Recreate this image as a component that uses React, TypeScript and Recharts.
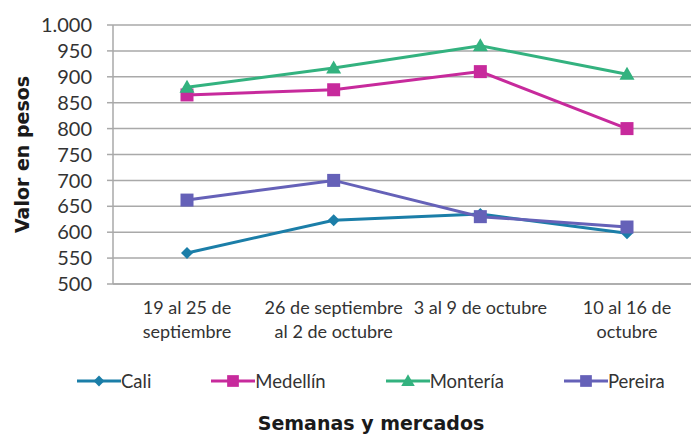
import React from 'react';
import { LineChart, Line, XAxis, YAxis, CartesianGrid } from 'recharts';

// semanas (dos renglones por etiqueta)
const weeks = [
  '19 al 25 de\nseptiembre',
  '26 de septiembre\nal 2 de octubre',
  '3 al 9 de octubre',
  '10 al 16 de\noctubre',
];
const cali = [560, 623, 635, 598];
const medellin = [865, 875, 910, 800];
const monteria = [880, 917, 960, 905];
const pereira = [662, 700, 630, 610];
const yTicks = [500, 550, 600, 650, 700, 750, 800, 850, 900, 950, 1000];

const series = [
  { key: 'cali', name: 'Cali', color: '#1b7ea8', shape: 'diamond' },
  { key: 'medellin', name: 'Medellín', color: '#c72a9c', shape: 'square' },
  { key: 'monteria', name: 'Montería', color: '#33b27f', shape: 'triangle' },
  { key: 'pereira', name: 'Pereira', color: '#6561b8', shape: 'square' },
];

const data = weeks.map((week, i) => ({
  week,
  cali: cali[i],
  medellin: medellin[i],
  monteria: monteria[i],
  pereira: pereira[i],
}));

const FONT = 'Lato, "Noto Sans", sans-serif';
const BOLD_FONT = '"DejaVu Sans", sans-serif';
const GRID = '#a9a9a9';

const Marker = ({ cx, cy, shape, color, size = 1 }: any) => {
  if (cx == null || cy == null) return null;
  if (shape === 'diamond') {
    const r = 6 * size;
    return <polygon points={`${cx},${cy - r} ${cx + r},${cy} ${cx},${cy + r} ${cx - r},${cy}`} fill={color} />;
  }
  if (shape === 'triangle') {
    const r = 7.5 * size;
    return <polygon points={`${cx},${cy - r} ${cx + r},${cy + r * 0.75} ${cx - r},${cy + r * 0.75}`} fill={color} />;
  }
  const h = 6.5 * size;
  return <rect x={cx - h} y={cy - h} width={h * 2} height={h * 2} fill={color} />;
};

const WeekTick = ({ x, y, payload }: any) => {
  const lines = String(payload.value).split('\n');
  return (
    <text x={x} y={y} textAnchor="middle" fill="#333" fontSize={18} fontFamily={FONT}>
      {lines.map((l, i) => (
        <tspan key={i} x={x} dy={i === 0 ? 22 : 24}>{l}</tspan>
      ))}
    </text>
  );
};

const fmt = (v: number) => (v >= 1000 ? `${Math.floor(v / 1000)}.${String(v % 1000).padStart(3, '0')}` : String(v));

export default function App() {
  return (
    <div style={{ position: 'absolute', left: 0, top: 0, width: 691, height: 437, overflow: 'hidden', background: '#fff' }}>
      <LineChart width={701} height={437} data={data} margin={{ top: 25, right: 0, bottom: 0, left: 0 }}>
        <CartesianGrid vertical={false} stroke={GRID} strokeWidth={1.5} />
        <XAxis
          dataKey="week"
          height={153}
          padding={{ left: 74, right: 74 }}
          axisLine={{ stroke: GRID, strokeWidth: 1.5 }}
          tickLine={false}
          tick={<WeekTick />}
          interval={0}
          label={(props: any) => {
            const vb = props.viewBox;
            return (
              <text x={vb.x + vb.width / 2 - 36} y={vb.y + vb.height - 7} textAnchor="middle" fontSize={19} fontWeight="bold" fontFamily={BOLD_FONT} fill="#1a1a1a">
                Semanas y mercados
              </text>
            );
          }}
        />
        <YAxis
          width={113}
          domain={[500, 1000]}
          ticks={yTicks}
          interval={0}
          tickFormatter={fmt}
          tickSize={6}
          tickMargin={15}
          axisLine={{ stroke: GRID, strokeWidth: 1.5 }}
          tickLine={{ stroke: GRID, strokeWidth: 1.5 }}
          tick={{ fill: '#333', fontSize: 20, fontFamily: FONT }}
          label={(props: any) => {
            const vb = props.viewBox;
            const cy = vb.y + vb.height / 2;
            return (
              <text x={22} y={cy} transform={`rotate(-90 22 ${cy})`} textAnchor="middle" dominantBaseline="central" fontSize={19} fontWeight="bold" fontFamily={BOLD_FONT} fill="#1a1a1a">
                Valor en pesos
              </text>
            );
          }}
        />
        {series.map((s) => (
          <Line
            key={s.key}
            dataKey={s.key}
            name={s.name}
            stroke={s.color}
            strokeWidth={3}
            isAnimationActive={false}
            dot={(p: any) => <Marker key={`${s.key}-${p.index}`} cx={p.cx} cy={p.cy} shape={s.shape} color={s.color} />}
            activeDot={false}
          />
        ))}
      </LineChart>
      <div style={{ position: 'absolute', top: 370, left: 77, display: 'flex', alignItems: 'center', gap: 60, fontFamily: FONT, fontSize: 18.5, color: '#333' }}>
        {series.map((s) => (
          <div key={s.key} style={{ display: 'flex', alignItems: 'center' }}>
            <svg width={44} height={20}>
              <line x1={0} y1={10} x2={44} y2={10} stroke={s.color} strokeWidth={3} />
              <Marker cx={22} cy={10} shape={s.shape} color={s.color} size={0.9} />
            </svg>
            <span>{s.name}</span>
          </div>
        ))}
      </div>
    </div>
  );
}
